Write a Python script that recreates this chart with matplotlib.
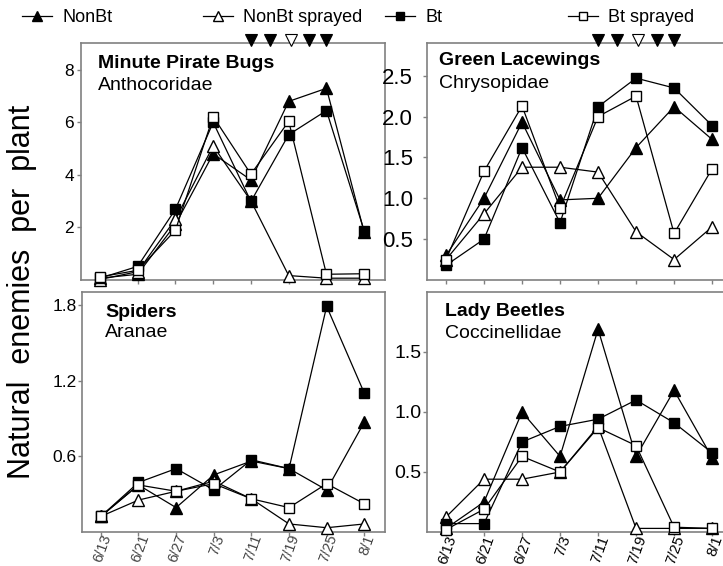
import matplotlib
matplotlib.use("Agg")
import matplotlib.pyplot as plt
from matplotlib.lines import Line2D

plt.rcParams['font.family'] = ['Liberation Sans', 'DejaVu Sans']

dates = ["6/13", "6/21", "6/27", "7/3", "7/11", "7/19", "7/25", "8/1"]
series_names = ["NonBt", "NonBt sprayed", "Bt", "Bt sprayed"]

# Minute Pirate Bugs
mpb_nonbt = [0.05, 0.2, 2.1, 4.8, 3.8, 6.8, 7.3, 1.8]
mpb_nonbt_spr = [0.0, 0.3, 2.3, 5.1, 3.0, 0.15, 0.05, 0.05]
mpb_bt = [0.05, 0.5, 2.68, 6.0, 2.98, 5.53, 6.45, 1.85]
mpb_bt_spr = [0.1, 0.35, 1.88, 6.22, 4.02, 6.04, 0.2, 0.22]

# Green Lacewings
gl_nonbt = [0.3, 1.0, 1.93, 0.98, 1.0, 1.62, 2.12, 1.72]
gl_nonbt_spr = [0.25, 0.81, 1.38, 1.38, 1.32, 0.59, 0.25, 0.65]
gl_bt = [0.18, 0.5, 1.62, 0.7, 2.12, 2.47, 2.35, 1.89]
gl_bt_spr = [0.25, 1.33, 2.13, 0.88, 2.0, 2.25, 0.57, 1.36]

# Spiders
sp_nonbt = [0.12, 0.37, 0.19, 0.45, 0.56, 0.50, 0.33, 0.87]
sp_nonbt_spr = [0.12, 0.25, 0.32, 0.40, 0.26, 0.06, 0.03, 0.06]
sp_bt = [0.12, 0.39, 0.50, 0.33, 0.57, 0.50, 1.79, 1.10]
sp_bt_spr = [0.12, 0.37, 0.32, 0.38, 0.26, 0.19, 0.38, 0.22]

# Lady Beetles
lb_nonbt = [0.03, 0.25, 1.0, 0.63, 1.69, 0.63, 1.18, 0.62]
lb_nonbt_spr = [0.125, 0.44, 0.44, 0.5, 0.88, 0.03, 0.03, 0.03]
lb_bt = [0.07, 0.07, 0.75, 0.88, 0.94, 1.10, 0.91, 0.66]
lb_bt_spr = [0.02, 0.19, 0.63, 0.5, 0.87, 0.72, 0.04, 0.03]

# spray dates (position along date index); filled = sprayed, open = not sprayed
spray_x = [4.0, 4.5, 5.05, 5.55, 6.0]
spray_filled = [True, True, False, True, True]

panels = [
    dict(title="Minute Pirate Bugs", sub="Anthocoridae",
         data=[mpb_nonbt, mpb_nonbt_spr, mpb_bt, mpb_bt_spr],
         yticks=[2, 4, 6, 8], yticklabels=["2", "4", "6", "8"], ylim=(0, 9.03),
         rect=[81/723, 1-279.5/566, 304/723, 236.5/566], tsize=12.5, ypad=2,
         txy=(0.056, 0.915, 0.822), spray=True, xlabels=False),
    dict(title="Green Lacewings", sub="Chrysopidae",
         data=[gl_nonbt, gl_nonbt_spr, gl_bt, gl_bt_spr],
         yticks=[0.5, 1.0, 1.5, 2.0, 2.5], yticklabels=["0.5", "1.0", "1.5", "2.0", "2.5"],
         ylim=(0, 2.9),
         rect=[427/723, 1-280/566, 306/723, 237/566], tsize=16, ypad=7,
         txy=(0.039, 0.928, 0.831), spray=True, xlabels=False),
    dict(title="Spiders", sub="Aranae",
         data=[sp_nonbt, sp_nonbt_spr, sp_bt, sp_bt_spr],
         yticks=[0.6, 1.2, 1.8], yticklabels=["0.6", "1.2", "1.8"], ylim=(0, 1.904),
         rect=[82/723, 1-531.5/566, 303/723, 239.5/566], tsize=12.5, ypad=1,
         txy=(0.076, 0.916, 0.829), spray=False, xlabels=True),
    dict(title="Lady Beetles", sub="Coccinellidae",
         data=[lb_nonbt, lb_nonbt_spr, lb_bt, lb_bt_spr],
         yticks=[0.5, 1.0, 1.5], yticklabels=["0.5", "1.0", "1.5"], ylim=(0, 2.0),
         rect=[427/723, 1-532/566, 306/723, 240/566], tsize=14, ypad=1,
         txy=(0.059, 0.92, 0.829), spray=False, xlabels=True),
]

styles = [
    dict(marker='^', mfc='black', ms=8),
    dict(marker='^', mfc='white', ms=8),
    dict(marker='s', mfc='black', ms=7.5),
    dict(marker='s', mfc='white', ms=7.5),
]

fig = plt.figure(figsize=(7.23, 5.66), dpi=100)
spine_col = '#808080'
x = list(range(len(dates)))

for i, p in enumerate(panels):
    ax = fig.add_axes(p['rect'])
    for vals, st in zip(p['data'], styles):
        ax.plot(x, vals, color='black', lw=0.9, marker=st['marker'],
                mfc=st['mfc'], mec='black', mew=1.0, ms=st['ms'], clip_on=False, zorder=3)
    ax.set_xlim(-0.5, 7.55)
    ax.set_ylim(*p['ylim'])
    ax.set_yticks(p['yticks'])
    ax.set_yticklabels(p['yticklabels'], fontsize=p['tsize'])
    ax.set_xticks(x)
    for s in ax.spines.values():
        s.set_color(spine_col)
        s.set_linewidth(1.2)
    ax.tick_params(axis='both', direction='out', color=spine_col, length=3, width=1)
    ax.tick_params(axis='y', pad=p['ypad'])
    ax.tick_params(axis='x', pad=-2)
    if p['xlabels']:
        if i == 2:
            ax.set_xticklabels(dates, rotation=70, fontsize=10.5, color='#444444',
                               ha='right', va='top', rotation_mode='anchor')
        else:
            ax.set_xticklabels(dates, rotation=70, fontsize=10.8, color='black',
                               ha='right', va='top', rotation_mode='anchor')
    else:
        ax.set_xticklabels([])
    tx, ty1, ty2 = p['txy']
    ax.text(tx, ty1, p['title'], transform=ax.transAxes, fontsize=14,
            fontweight='bold', va='center', ha='left')
    ax.text(tx, ty2, p['sub'], transform=ax.transAxes, fontsize=14,
            va='center', ha='left')
    if p['spray']:
        tr = ax.get_xaxis_transform()
        for sx, filled in zip(spray_x, spray_filled):
            ax.plot([sx], [1.012], marker='v', ms=8, transform=tr, clip_on=False,
                    mfc='black' if filled else 'white', mec='black', mew=0.8,
                    linestyle='none', zorder=5)

fig.text(22/723, 1-292/566, "Natural  enemies  per  plant", rotation=90,
         fontsize=22, va='center', ha='center')

leg_x = [22, 203, 385, 568]
for name, st, lx in zip(series_names, styles, leg_x):
    h = Line2D([0], [0], color='black', lw=0.9, marker=st['marker'],
               mfc=st['mfc'], mec='black', mew=1.0, ms=st['ms'] * 0.85)
    fig.legend([h], [name], loc='center left', bbox_to_anchor=(lx/723, 1-18/566),
               frameon=False, fontsize=13, handlelength=1.67, handletextpad=0.55,
               borderpad=0, borderaxespad=0)

fig.savefig("out.png", dpi=100)
